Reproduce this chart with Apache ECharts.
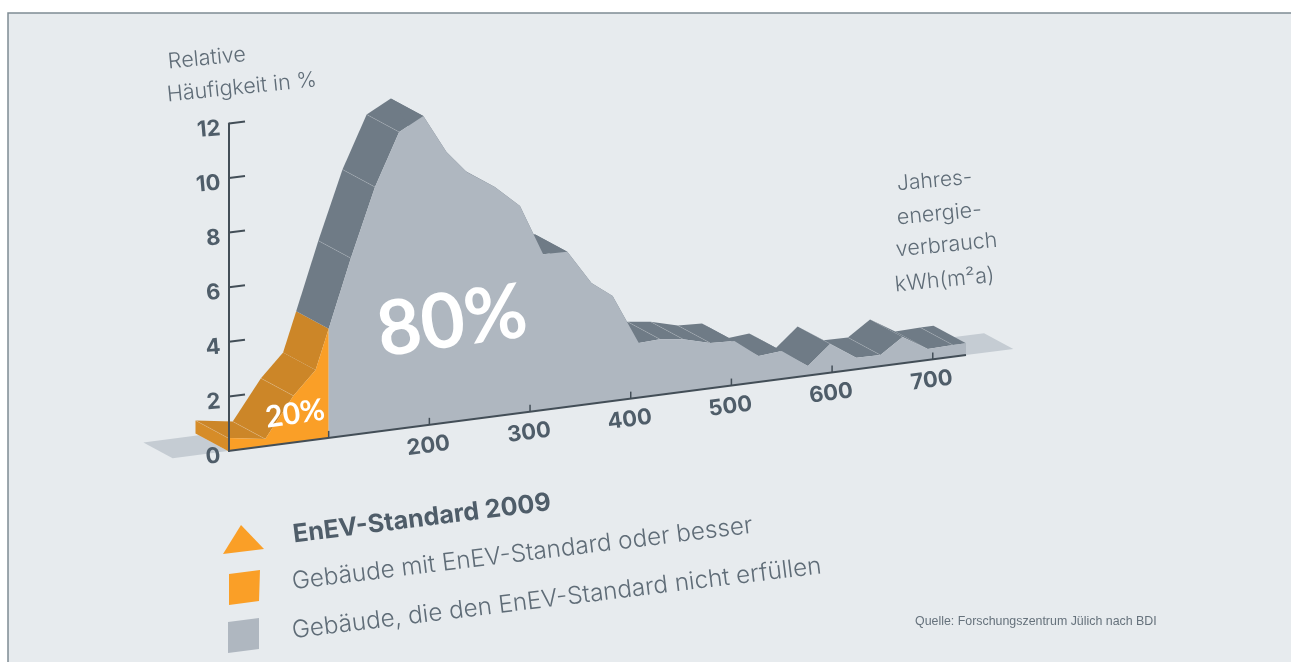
<!DOCTYPE html>
<html><head><meta charset="utf-8">
<style>html,body{margin:0;padding:0;background:#fff}#c{width:1291px;height:662px}</style>
<script src="https://cdn.jsdelivr.net/npm/echarts@6/dist/echarts.min.js"></script>
</head><body><div id="c"></div>
<script>
// Data
const energy = [0,37,65,87,100,122,146,170,194,217,237,265,290,313,337,361,382,408,429,452,479,503,527,550,576,598,624,648,670,695,720,733];
const share  = [0.48,0.26,1.71,2.55,4.0,6.48,8.97,10.87,11.34,9.91,9.08,8.40,7.58,5.71,5.68,4.42,3.85,2.0,2.04,1.93,1.66,1.62,0.95,1.03,0.35,1.05,0.42,0.41,0.96,0.40,0.43,0.43];
const standardLimit = 100;
const seamEnergies = [0,37,65,122,146,170,429,452,479,648,720];
const xTicks = [100,200,300,400,500,600,700];
const xTickLabels = ['','200','300','400','500','600','700'];
const yTicks = [0,2,4,6,8,10,12];
const legendLabels = ['EnEV-Standard 2009','Gebäude mit EnEV-Standard oder besser','Gebäude, die den EnEV-Standard nicht erfüllen'];
const xMax = 733, yMax = 12;

const C = {bg:'#e7ebee',frame:'#7f8c94',orange:'#fa9f27',orangeSide:'#cc8628',orangeCap:'#d68c28',
  gray:'#afb7c0',graySide:'#6f7b86',plate:'#c5ccd3',axis:'#434e57',label:'#4f5d69',text:'#5f6c77'};
const SLOPE=0.13, DX=32.5, DY=17.5, TILT=7.4*Math.PI/180;
const FONT='Inter, "Noto Sans", sans-serif';
const BIG='Lato, "Open Sans", sans-serif';

function project(api,x,v,d){
  const o=api.coord([0,0]), p=api.coord([x,v]);
  return [p[0]-DX*(d||0), p[1]-SLOPE*(p[0]-o[0])-DY*(d||0)];
}
function customSeries(data,renderItem){
  return {type:'custom',coordinateSystem:'cartesian2d',silent:true,animation:false,clip:false,
    encode:{x:0,y:1},data:data,renderItem:renderItem};
}
const poly=(pts,fill)=>({type:'polygon',shape:{points:pts},style:{fill:fill,stroke:null}});
const segments=energy.slice(0,-1).map((e,i)=>[e,share[i],energy[i+1],share[i+1]]);
const leftPts=energy.map((e,i)=>[e,share[i]]).filter(p=>p[0]<=standardLimit);
const rightPts=energy.map((e,i)=>[e,share[i]]).filter(p=>p[0]>=standardLimit);

const series=[
  // ground plate, both visible ends
  customSeries([[-55,0],[733,780]],(p,api)=>{
    const a=api.value(0),b=api.value(1),k=0.9;
    return poly([project(api,a,0),project(api,b,0),project(api,b,0,k),project(api,a,0,k)],C.plate);
  }),
  // left end cap
  customSeries([[0,share[0]]],(p,api)=>poly([project(api,0,0),project(api,0,api.value(1)),project(api,0,api.value(1),1),project(api,0,0,1)],C.orangeCap)),
  // extruded sides
  customSeries(segments,(p,api)=>{
    const x0=api.value(0),v0=api.value(1),x1=api.value(2),v1=api.value(3);
    return poly([project(api,x0,v0),project(api,x1,v1),project(api,x1,v1,1),project(api,x0,v0,1)],
      x1<=standardLimit?C.orangeSide:C.graySide);
  }),
  // seams on the sides
  customSeries(seamEnergies.map(e=>[e,share[energy.indexOf(e)]]),(p,api)=>{
    const a=project(api,api.value(0),api.value(1)),b=project(api,api.value(0),api.value(1),1);
    return {type:'line',shape:{x1:a[0],y1:a[1],x2:b[0],y2:b[1]},style:{stroke:'rgba(255,255,255,0.22)',lineWidth:0.7}};
  }),
  // front faces
  customSeries([[0,0]],(p,api)=>poly([project(api,0,0)].concat(leftPts.map(q=>project(api,q[0],q[1])),[project(api,standardLimit,0)]),C.orange)),
  customSeries([[standardLimit,0]],(p,api)=>poly([project(api,standardLimit,0)].concat(rightPts.map(q=>project(api,q[0],q[1])),[project(api,xMax,0)]),C.gray)),
  // x axis line
  customSeries([[0,0]],(p,api)=>{
    const a=project(api,0,0),b=project(api,xMax,0);
    return {type:'line',shape:{x1:a[0],y1:a[1],x2:b[0],y2:b[1]},style:{stroke:C.axis,lineWidth:2}};
  }),
  // x ticks and labels
  customSeries(xTicks.map((t,i)=>[t,0,i]),(p,api)=>{
    const t=api.value(0),a=project(api,t,0),lab=xTickLabels[api.value(2)];
    return {type:'group',children:[
      {type:'line',shape:{x1:a[0],y1:a[1],x2:a[0],y2:a[1]-7},style:{stroke:C.axis,lineWidth:1.5}},
      {type:'text',x:a[0]-1,y:a[1]+21,rotation:TILT,style:{text:lab,fill:C.label,font:'700 22px '+FONT,align:'center',verticalAlign:'middle'}}
    ]};
  }),
  // slanted y ticks
  customSeries(yTicks.slice(1).map(t=>[0,t]),(p,api)=>{
    const a=api.coord([0,api.value(1)]);
    return {type:'line',shape:{x1:a[0]+1,y1:a[1],x2:a[0]+17,y2:a[1]-2},style:{stroke:C.axis,lineWidth:2}};
  })
];

const tilted=(text,x,y,deg,font,fill,align)=>({type:'text',x:x,y:y,rotation:deg*Math.PI/180,z:20,silent:true,
  style:{text:text,font:font,fill:fill,align:align||'left',verticalAlign:'middle'}});
const light='300 ';
const graphic=[
  {type:'rect',z:-10,silent:true,shape:{x:8,y:13,width:1400,height:800},style:{fill:C.bg,stroke:C.frame,lineWidth:1.5}},
  tilted('Relative',168,62,5.5,light+'21.5px '+FONT,C.text),
  tilted('Häufigkeit in %',167,95,5.8,light+'21.5px '+FONT,C.text),
  tilted('Jahres-',897,184,5,light+'21px '+FONT,C.text),
  tilted('energie-',897,218,5.5,light+'21.5px '+FONT,C.text),
  tilted('verbrauch',896,250,5.5,light+'21.5px '+FONT,C.text),
  tilted('kWh(m²a)',895,285,5.5,light+'21.5px '+FONT,C.text),
  tilted('80%',452,322,8,'700 76px '+BIG,'#ffffff','center'),
  tilted('20%',295,414,8,'700 30px '+BIG,'#ffffff','center'),
  {type:'polygon',z:20,silent:true,shape:{points:[[223,554],[264,549],[241,525]]},style:{fill:C.orange}},
  {type:'polygon',z:20,silent:true,shape:{points:[[229,574],[260,570],[259,601],[229,605]]},style:{fill:C.orange}},
  {type:'polygon',z:20,silent:true,shape:{points:[[228,622],[259,618],[259,649],[228,653]]},style:{fill:C.gray}},
  tilted(legendLabels[0],293,535,7.2,'700 25.2px '+FONT,C.label),
  tilted(legendLabels[1],292,582,7,light+'24.3px '+FONT,C.text),
  tilted(legendLabels[2],292,631,7,light+'24.3px '+FONT,C.text),
  tilted('Quelle: Forschungszentrum Jülich nach BDI',915,622,0,'400 12.4px "Liberation Sans", sans-serif','#66727c')
];

const chart=echarts.init(document.getElementById('c'),null,{renderer:'canvas'});
chart.setOption({
  animation:false,
  backgroundColor:'#ffffff',
  grid:{left:228,right:1291-966,top:451-12*27.3,bottom:662-451,containLabel:false},
  xAxis:{type:'value',min:0,max:xMax,show:false},
  yAxis:{type:'value',min:0,max:yMax,interval:2,z:10,offset:-1,
    axisLine:{show:true,lineStyle:{color:C.axis,width:2}},axisTick:{show:false},splitLine:{show:false},
    axisLabel:{margin:9,verticalAlign:'top',lineHeight:10,color:C.label,fontFamily:FONT,fontWeight:700,fontSize:22,rotate:5}},
  graphic:graphic,
  series:series
});
</script></body></html>
